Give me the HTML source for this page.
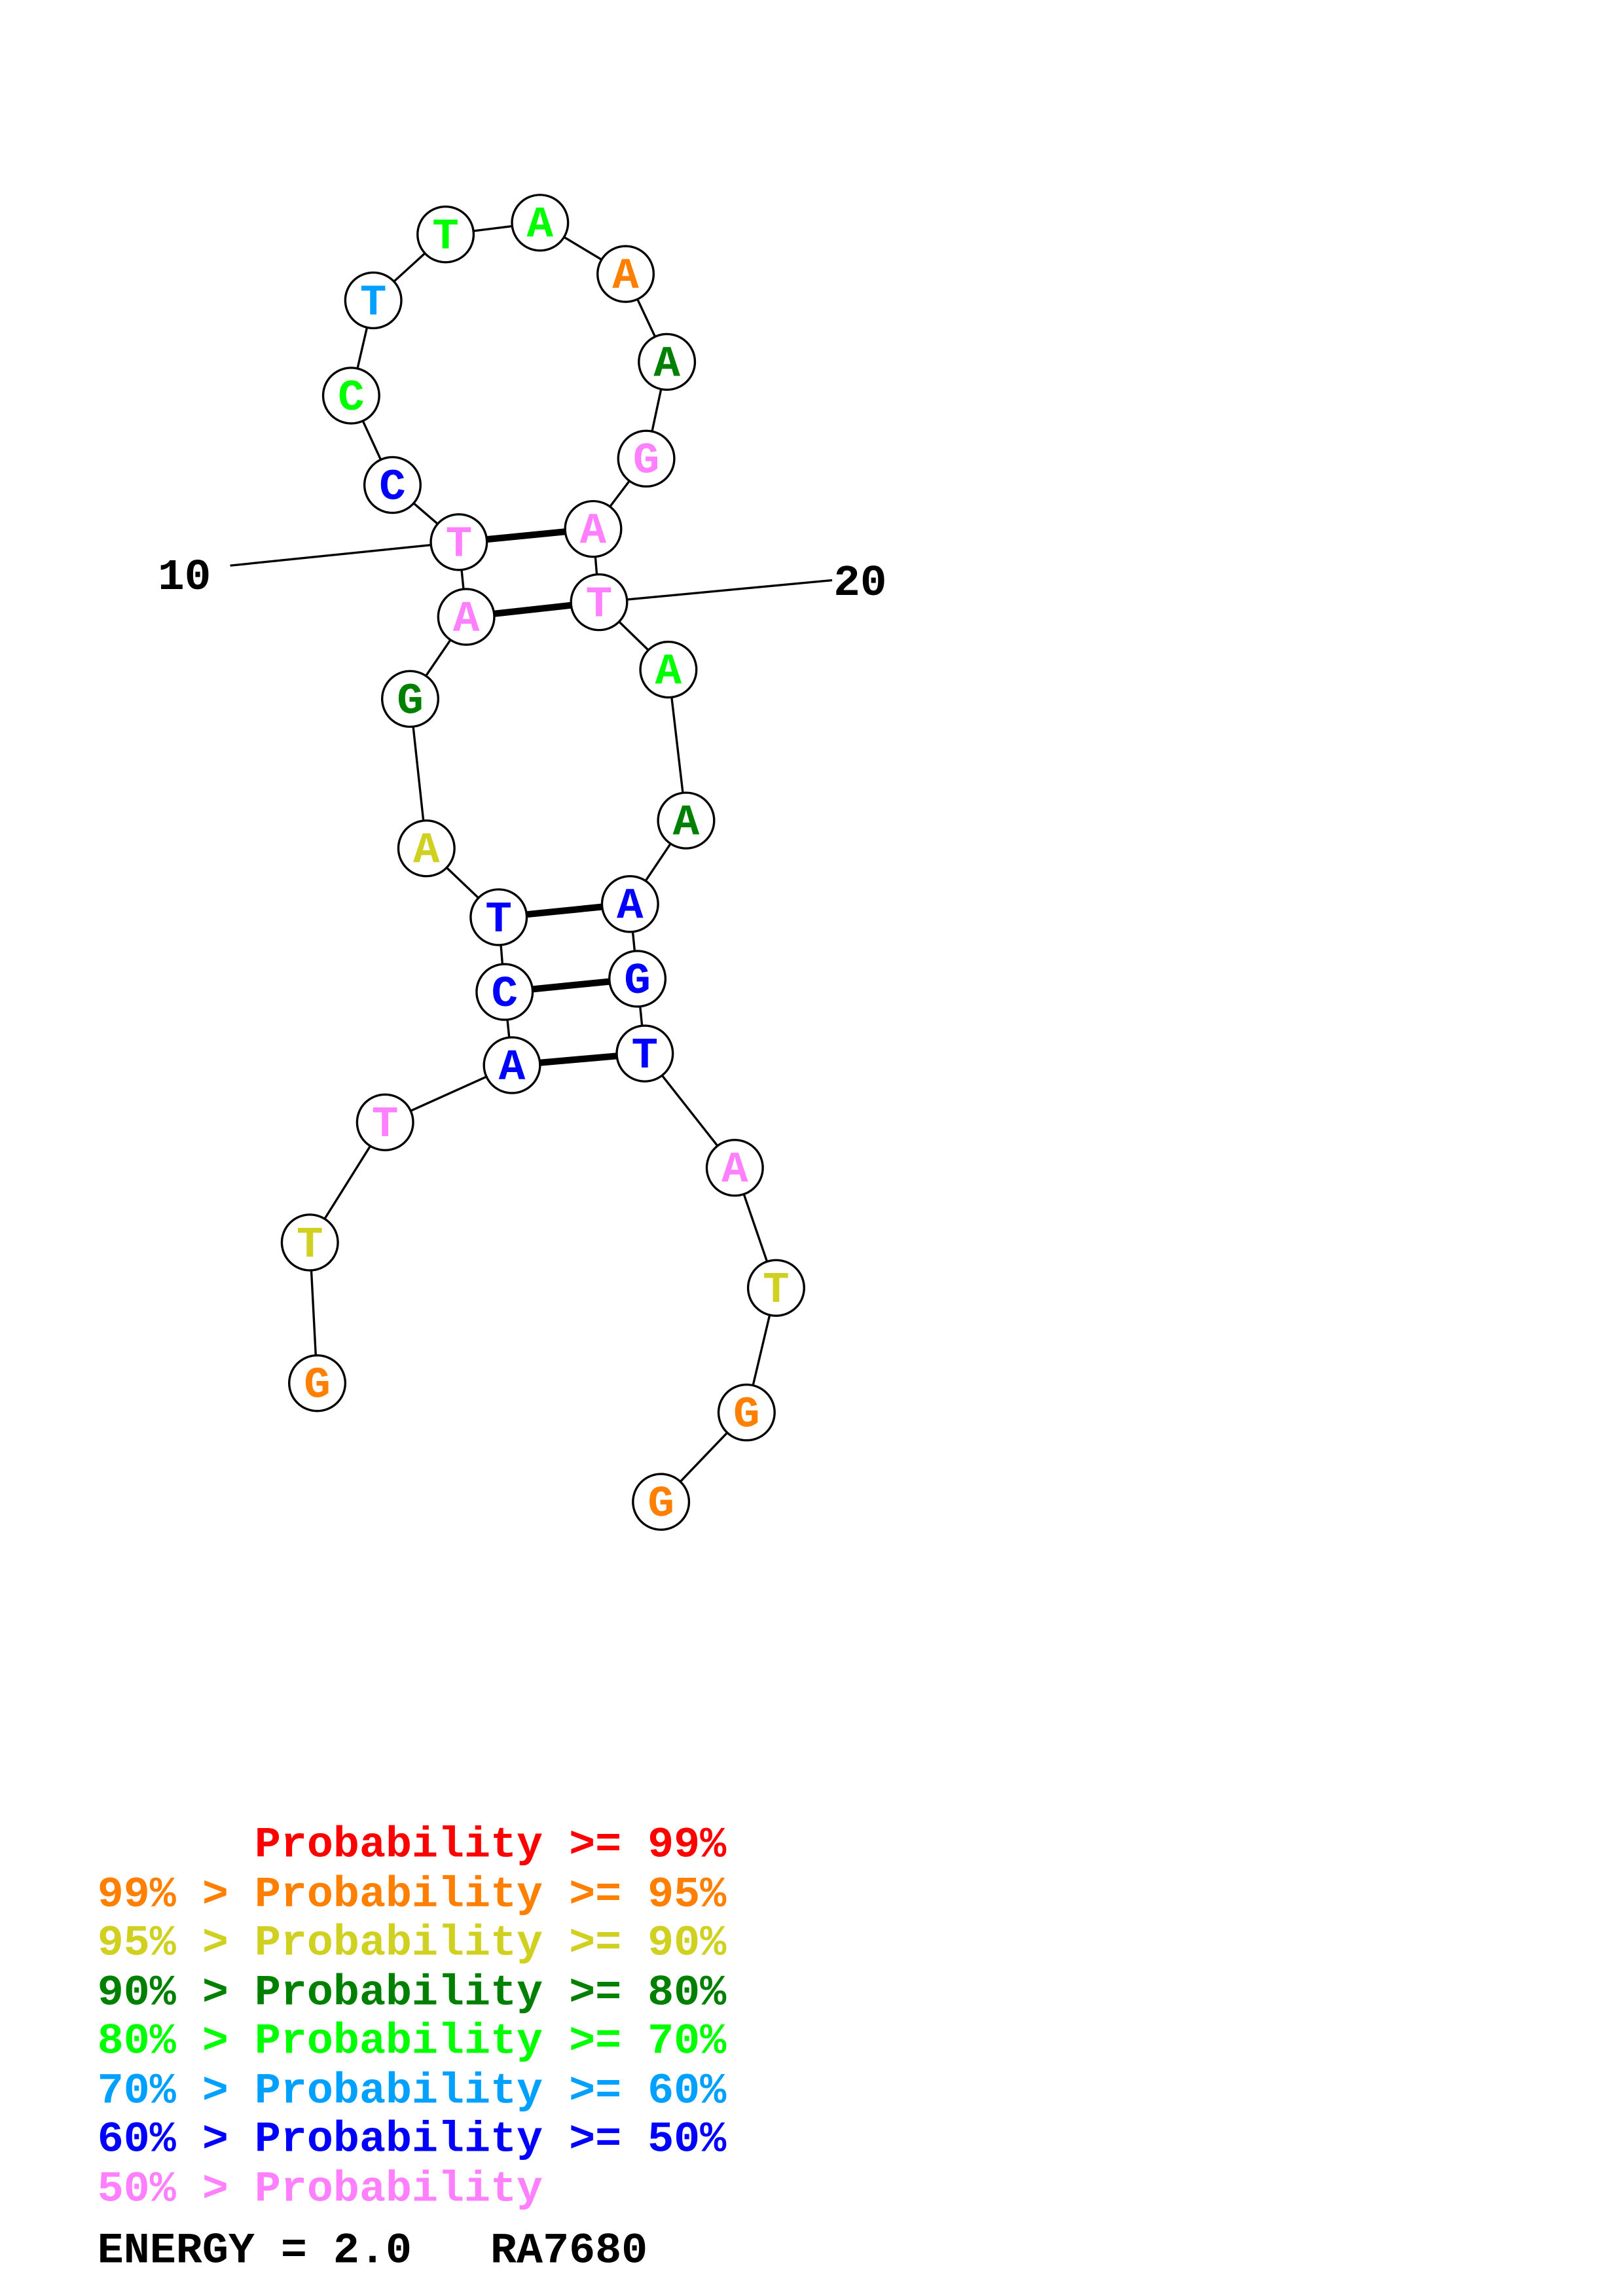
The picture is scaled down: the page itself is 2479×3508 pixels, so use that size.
<!DOCTYPE html>
<html><head><style>html,body{margin:0;padding:0;background:#fff}svg{display:block}.p{white-space:pre}</style></head>
<body>
<svg xmlns="http://www.w3.org/2000/svg" width="2479" height="3508" viewBox="2 0 1100 1567" preserveAspectRatio="none">
<rect x="0" width="1110" height="1567" fill="#fff"/>
<g stroke="#000" stroke-width="1.5" fill="none">
<polyline points="217,944 212,848 263,766 349,727 344,677 340,626 291,579 280,477 318,421 313,370 268,331 240,270 255,205 304,160 368,152 426,187 454,247 440,313 404,361 408,411 455,457 467,560 429,617 434,668 439,719 500,797 528,879 508,964 450,1025"/>
<line x1="158" y1="386" x2="313" y2="370"/>
<line x1="566" y1="396" x2="408" y2="411"/>
</g>
<g stroke="#000" stroke-width="4.5">
<line x1="313" y1="370" x2="404" y2="361"/>
<line x1="318" y1="421" x2="408" y2="411"/>
<line x1="340" y1="626" x2="429" y2="617"/>
<line x1="344" y1="677" x2="434" y2="668"/>
<line x1="349" y1="727" x2="439" y2="719"/>
</g>
<g stroke="#000" stroke-width="1.5" fill="#fff">
<circle cx="217" cy="944" r="19"/><circle cx="212" cy="848" r="19"/><circle cx="263" cy="766" r="19"/><circle cx="349" cy="727" r="19"/><circle cx="344" cy="677" r="19"/><circle cx="340" cy="626" r="19"/><circle cx="291" cy="579" r="19"/><circle cx="280" cy="477" r="19"/><circle cx="318" cy="421" r="19"/><circle cx="313" cy="370" r="19"/><circle cx="268" cy="331" r="19"/><circle cx="240" cy="270" r="19"/><circle cx="255" cy="205" r="19"/><circle cx="304" cy="160" r="19"/><circle cx="368" cy="152" r="19"/><circle cx="426" cy="187" r="19"/><circle cx="454" cy="247" r="19"/><circle cx="440" cy="313" r="19"/><circle cx="404" cy="361" r="19"/><circle cx="408" cy="411" r="19"/><circle cx="455" cy="457" r="19"/><circle cx="467" cy="560" r="19"/><circle cx="429" cy="617" r="19"/><circle cx="434" cy="668" r="19"/><circle cx="439" cy="719" r="19"/><circle cx="500" cy="797" r="19"/><circle cx="528" cy="879" r="19"/><circle cx="508" cy="964" r="19"/><circle cx="450" cy="1025" r="19"/>
</g>
<g font-family="Liberation Mono, monospace" font-weight="bold" font-size="30" text-anchor="middle" dominant-baseline="central">
<text x="217" y="946" fill="#ff8000">G</text><text x="212" y="850" fill="#d0d020">T</text><text x="263" y="768" fill="#ff80ff">T</text><text x="349" y="729" fill="#0000ff">A</text><text x="344" y="679" fill="#0000ff">C</text><text x="340" y="628" fill="#0000ff">T</text><text x="291" y="581" fill="#d0d020">A</text><text x="280" y="479" fill="#008000">G</text><text x="318" y="423" fill="#ff80ff">A</text><text x="313" y="372" fill="#ff80ff">T</text><text x="268" y="333" fill="#0000ff">C</text><text x="240" y="272" fill="#00ff00">C</text><text x="255" y="207" fill="#00a0ff">T</text><text x="304" y="162" fill="#00ff00">T</text><text x="368" y="154" fill="#00ff00">A</text><text x="426" y="189" fill="#ff8000">A</text><text x="454" y="249" fill="#008000">A</text><text x="440" y="315" fill="#ff80ff">G</text><text x="404" y="363" fill="#ff80ff">A</text><text x="408" y="413" fill="#ff80ff">T</text><text x="455" y="459" fill="#00ff00">A</text><text x="467" y="562" fill="#008000">A</text><text x="429" y="619" fill="#0000ff">A</text><text x="434" y="670" fill="#0000ff">G</text><text x="439" y="721" fill="#0000ff">T</text><text x="500" y="799" fill="#ff80ff">A</text><text x="528" y="881" fill="#d0d020">T</text><text x="508" y="966" fill="#ff8000">G</text><text x="450" y="1027" fill="#ff8000">G</text>
</g>
<g font-family="Liberation Mono, monospace" font-weight="bold" font-size="30" fill="#000">
<text x="109" y="402">10</text><text x="567" y="406">20</text>
</g>
<g font-family="Liberation Mono, monospace" font-weight="bold" font-size="29.6" class="p">
<text x="68" y="1267" fill="#ff0000" class="p">      Probability &gt;= 99%</text>
<text x="68" y="1301" fill="#ff8000" class="p">99% &gt; Probability &gt;= 95%</text>
<text x="68" y="1334" fill="#d0d020" class="p">95% &gt; Probability &gt;= 90%</text>
<text x="68" y="1368" fill="#008000" class="p">90% &gt; Probability &gt;= 80%</text>
<text x="68" y="1401" fill="#00ff00" class="p">80% &gt; Probability &gt;= 70%</text>
<text x="68" y="1435" fill="#00a0ff" class="p">70% &gt; Probability &gt;= 60%</text>
<text x="68" y="1468" fill="#0000ff" class="p">60% &gt; Probability &gt;= 50%</text>
<text x="68" y="1502" fill="#ff80ff" class="p">50% &gt; Probability</text>
<text x="68" y="1544" fill="#000" class="p">ENERGY = 2.0   RA7680</text>
</g>
</svg>
</body></html>
